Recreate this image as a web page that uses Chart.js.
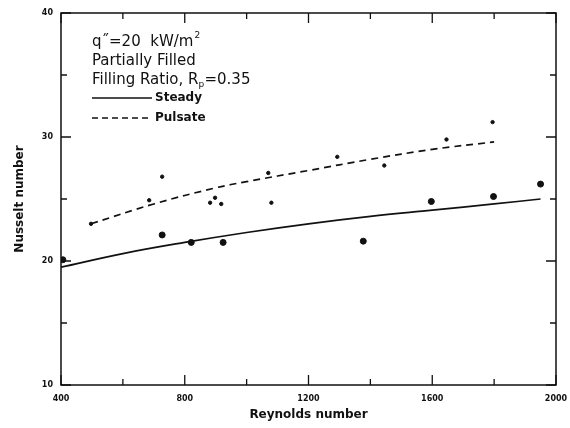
<!DOCTYPE html>
<html>
<head>
<meta charset="utf-8">
<script src="https://cdn.jsdelivr.net/npm/chart.js@4/dist/chart.umd.min.js"></script>
<style>
  html, body { margin: 0; padding: 0; background: #fff; }
  #wrap { width: 570px; height: 428px; }
</style>
</head>
<body>
<div id="wrap"><canvas id="chart" width="570" height="428"></canvas></div>
<script>
// fitted curves
const steadyRe = [400, 600, 800, 1000, 1200, 1400, 1600, 1800, 1950];
const steadyNu = [19.5, 20.6, 21.5, 22.3, 23.0, 23.6, 24.1, 24.6, 25.0];
const pulsateRe = [497, 700, 900, 1000, 1200, 1400, 1600, 1800];
const pulsateNu = [23.0, 24.6, 25.9, 26.4, 27.3, 28.2, 29.0, 29.6];

// measured points
const steadyPtRe = [406, 727, 821, 924, 1377, 1597, 1798, 1950];
const steadyPtNu = [20.1, 22.1, 21.5, 21.5, 21.6, 24.8, 25.2, 26.2];
const pulsePtRe = [497, 685, 727, 882, 898, 918, 1070, 1080, 1293, 1445, 1646, 1795];
const pulsePtNu = [23.0, 24.9, 26.8, 24.7, 25.1, 24.6, 27.1, 24.7, 28.4, 27.7, 29.8, 31.2];

const xTicks = [400, 800, 1200, 1600, 2000];
const yTicks = [10, 20, 30, 40];

const pairs = (xs, ys) => xs.map((x, i) => ({ x: x, y: ys[i] }));

const fontFam = "'DejaVu Sans', Verdana, sans-serif";

// frame + inward ticks, like the old plotting package
const framePlugin = {
  id: "frame",
  afterDatasetsDraw(chart) {
    const { ctx, chartArea: a, scales } = chart;
    const xs = scales.x, ys = scales.y;
    ctx.save();
    ctx.strokeStyle = "#111";
    ctx.lineWidth = 1.5;
    ctx.strokeRect(a.left, a.top, a.right - a.left, a.bottom - a.top);
    ctx.lineWidth = 1.3;
    for (let v = 400; v <= 2000; v += 200) {
      const px = xs.getPixelForValue(v);
      const len = v % 400 === 0 ? 10 : 6;
      ctx.beginPath();
      ctx.moveTo(px, a.bottom); ctx.lineTo(px, a.bottom - len);
      ctx.moveTo(px, a.top); ctx.lineTo(px, a.top + len);
      ctx.stroke();
    }
    for (let v = 10; v <= 40; v += 5) {
      const py = ys.getPixelForValue(v);
      const len = v % 10 === 0 ? 10 : 6;
      ctx.beginPath();
      ctx.moveTo(a.left, py); ctx.lineTo(a.left + len, py);
      ctx.moveTo(a.right, py); ctx.lineTo(a.right - len, py);
      ctx.stroke();
    }
    ctx.restore();
  }
};

// the text block inside the plot
const notePlugin = {
  id: "note",
  afterDraw(chart) {
    const { ctx, chartArea: a } = chart;
    const x0 = a.left + 31;
    ctx.save();
    ctx.fillStyle = "#111";
    ctx.textBaseline = "middle";
    ctx.font = "15px " + fontFam;
    ctx.fillText("q\u02DD=20  kW/m", x0, a.top + 29);
    let w = ctx.measureText("q\u02DD=20  kW/m").width;
    ctx.font = "9px " + fontFam;
    ctx.fillText("2", x0 + w + 1, a.top + 23);
    ctx.font = "15px " + fontFam;
    ctx.fillText("Partially Filled", x0, a.top + 48);
    ctx.fillText("Filling Ratio, R", x0, a.top + 67);
    w = ctx.measureText("Filling Ratio, R").width;
    ctx.font = "9px " + fontFam;
    ctx.fillText("p", x0 + w, a.top + 72);
    ctx.font = "15px " + fontFam;
    ctx.fillText("=0.35", x0 + w + 6, a.top + 67);

    ctx.font = "bold 12px " + fontFam;
    ctx.strokeStyle = "#111";
    ctx.lineWidth = 1.4;
    ctx.beginPath();
    ctx.moveTo(x0, a.top + 85); ctx.lineTo(x0 + 60, a.top + 85);
    ctx.stroke();
    ctx.fillText("Steady", x0 + 63, a.top + 85);
    ctx.setLineDash([6, 4]);
    ctx.beginPath();
    ctx.moveTo(x0, a.top + 105); ctx.lineTo(x0 + 56, a.top + 105);
    ctx.stroke();
    ctx.setLineDash([]);
    ctx.fillText("Pulsate", x0 + 63, a.top + 105);
    ctx.restore();
  }
};

new Chart(document.getElementById("chart"), {
  type: "scatter",
  data: {
    datasets: [
      {
        type: "line",
        label: "Steady",
        data: pairs(steadyRe, steadyNu),
        borderColor: "#111",
        borderWidth: 1.7,
        pointRadius: 0,
        tension: 0.4,
        fill: false,
      },
      {
        type: "line",
        label: "Pulsate",
        data: pairs(pulsateRe, pulsateNu),
        borderColor: "#111",
        borderWidth: 1.7,
        borderDash: [7, 5],
        pointRadius: 0,
        tension: 0.4,
        fill: false,
      },
      {
        label: "Steady data",
        data: pairs(steadyPtRe, steadyPtNu),
        backgroundColor: "#111",
        borderColor: "#111",
        pointRadius: 3,
      },
      {
        label: "Pulsate data",
        data: pairs(pulsePtRe, pulsePtNu),
        backgroundColor: "#111",
        borderColor: "#111",
        pointRadius: 1.7,
      },
    ],
  },
  options: {
    responsive: false,
    animation: false,
    layout: { padding: { left: 0, right: 14, top: 13, bottom: 0 } },
    plugins: { legend: { display: false }, tooltip: { enabled: false } },
    scales: {
      x: {
        type: "linear",
        min: 400,
        max: 2000,
        afterBuildTicks: (s) => { s.ticks = xTicks.map((v) => ({ value: v })); },
        afterFit: (s) => { s.height = 43; s.paddingLeft = 0; s.paddingRight = 0; },
        grid: { display: false, drawTicks: false },
        border: { display: false },
        ticks: {
          color: "#111",
          padding: 9,
          maxRotation: 0,
          callback: (v) => String(v),
          font: { family: fontFam, size: 8, weight: "bold" },
        },
        title: {
          display: true,
          text: "Reynolds number",
          color: "#111",
          padding: { top: 0, bottom: 6 },
          font: { family: fontFam, size: 12, weight: "bold" },
        },
      },
      y: {
        type: "linear",
        min: 10,
        max: 40,
        afterBuildTicks: (s) => { s.ticks = yTicks.map((v) => ({ value: v })); },
        afterFit: (s) => { s.width = 61; s.paddingTop = 0; s.paddingBottom = 0; },
        grid: { display: false, drawTicks: false },
        border: { display: false },
        ticks: {
          color: "#111",
          padding: 8,
          callback: (v) => String(v),
          font: { family: fontFam, size: 8, weight: "bold" },
        },
        title: {
          display: true,
          text: "Nusselt number",
          color: "#111",
          padding: { top: 13, bottom: 0 },
          font: { family: fontFam, size: 12, weight: "bold" },
        },
      },
    },
  },
  plugins: [framePlugin, notePlugin],
});
</script>
</body>
</html>
